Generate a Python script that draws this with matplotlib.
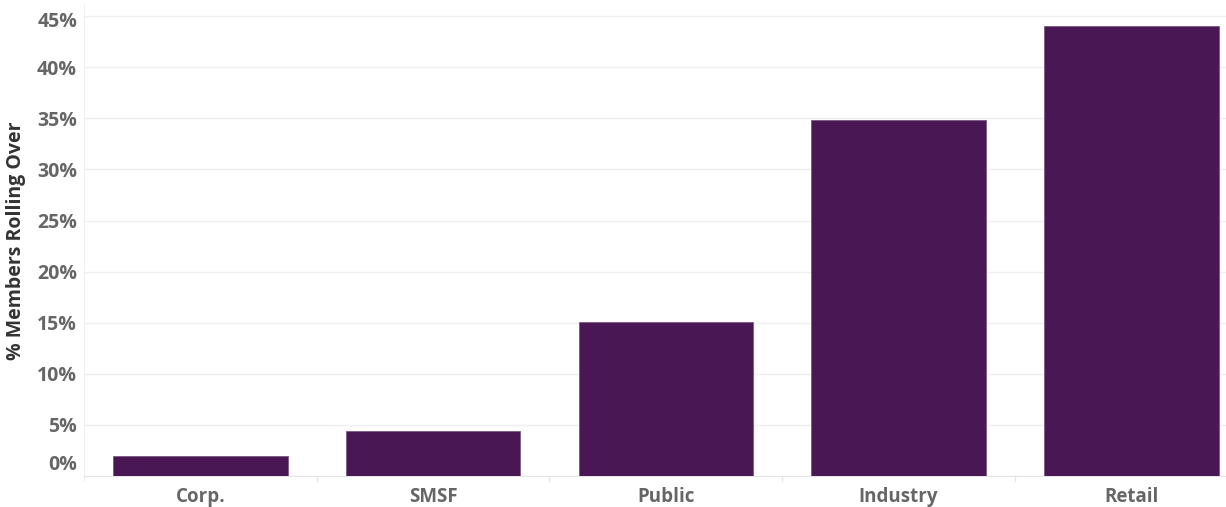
import matplotlib
matplotlib.use("Agg")
import matplotlib.pyplot as plt
from matplotlib.transforms import ScaledTranslation

categories = ["Corp.", "SMSF", "Public", "Industry", "Retail"]
values = [2.0, 4.4, 15.1, 34.8, 44.0]
yticks = [0, 5, 10, 15, 20, 25, 30, 35, 40, 45]
ytick_labels = [f"{v}%" for v in yticks]

plt.rcParams['font.family'] = ['Open Sans', 'DejaVu Sans']

W, H = 1226, 507
fig = plt.figure(figsize=(W / 100, H / 100), dpi=100)
left, right, bottom, top = 84, 1226, 476, 5
ax = fig.add_axes([left / W, (H - bottom) / H, (right - left) / W, (bottom - top) / H])

bar_color = "#4A1755"
x = list(range(len(categories)))
ax.bar(x, values, width=0.75, color=bar_color, edgecolor="#7a5a85", linewidth=0.6, zorder=3)

ax.set_xlim(-0.5, 4.407)
ax.set_ylim(0, 46.1)

ax.set_yticks(yticks)
ax.set_yticklabels(ytick_labels, fontsize=14, fontweight="bold", color="#666666")
ax.yaxis.grid(True, color="#efefef", linewidth=1, zorder=0)
ax.tick_params(axis="y", length=0, pad=5)

ax.set_xticks(x)
ax.set_xticklabels(categories, fontsize=13.5, fontweight="bold", color="#666666")
ax.tick_params(axis="x", length=0, pad=8)

# category separator ticks
for b in [i + 0.5 for i in range(len(categories) - 1)]:
    ax.plot([b, b], [0, -0.5], color="#e6e6e6", linewidth=1, clip_on=False, zorder=1)

for s in ["top", "right"]:
    ax.spines[s].set_visible(False)
ax.spines["left"].set_color("#efefef")
ax.spines["bottom"].set_color("#e6e6e6")
ax.spines["left"].set_bounds(-0.5, 46.1)

# Shift edge tick labels inside the pane like the reference
labels = ax.get_yticklabels()
labels[0].set_transform(labels[0].get_transform() + ScaledTranslation(0, 14 / 100, fig.dpi_scale_trans))
labels[-1].set_transform(labels[-1].get_transform() + ScaledTranslation(0, -3 / 100, fig.dpi_scale_trans))

ax.set_ylabel("% Members Rolling Over", fontsize=14, fontweight="bold", color="#333333")
ax.yaxis.set_label_coords(-58 / (right - left), 0.5)

fig.savefig("out.png", dpi=100)
